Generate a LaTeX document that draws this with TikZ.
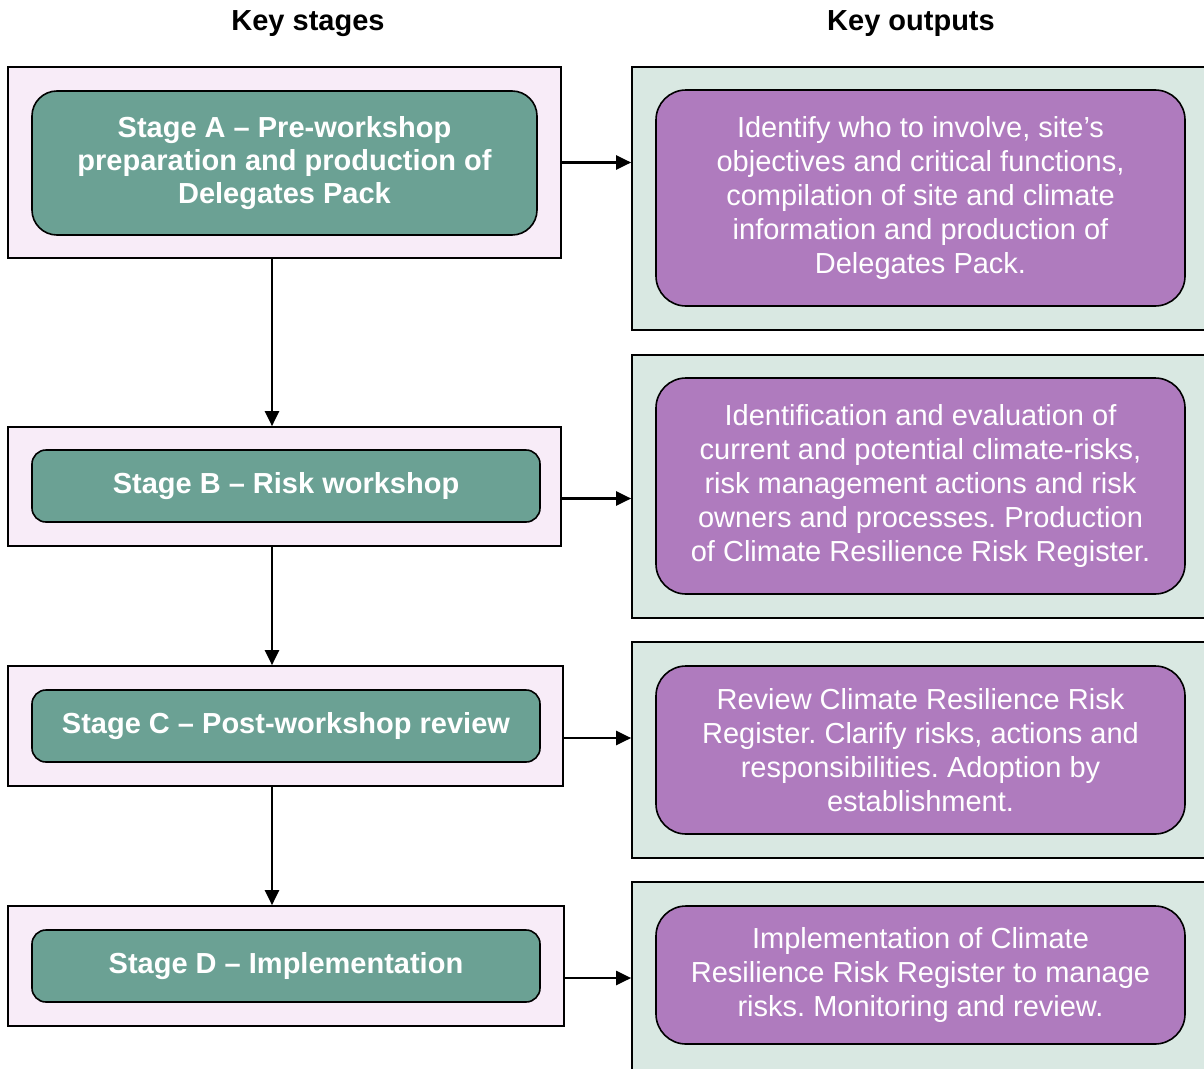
\documentclass[tikz,border=0pt]{standalone}
\usepackage{fontspec}
\setmainfont{Liberation Sans}
\usetikzlibrary{arrows.meta,calc}

\definecolor{stagepink}{HTML}{F8ECF8}
\definecolor{stagegreen}{HTML}{6BA194}
\definecolor{outgreen}{HTML}{D9E8E2}
\definecolor{outpurple}{HTML}{AF7BBE}

\tikzset{
  frame/.style={draw=black, line width=1.7pt, inner sep=0pt},
  stageframe/.style={frame, fill=stagepink},
  outframe/.style={frame, fill=outgreen},
  stagebox/.style={draw=black, fill=stagegreen, line width=1.6pt, inner sep=0pt,
    text=white, align=center, font=\bfseries\fontsize{29}{33}\selectfont},
  outbox/.style={draw=black, fill=outpurple, line width=1.6pt, inner sep=0pt,
    rounded corners=30pt, text=white, align=center, font=\fontsize{29}{34}\selectfont},
  flow/.style={-{Triangle[length=15pt,width=14pt]}, line width=2.2pt},
  heading/.style={font=\bfseries\fontsize{29}{33}\selectfont}
}

\begin{document}
\frenchspacing
\begin{tikzpicture}[x=1pt, y=-1pt]
    \useasboundingbox (0,0) rectangle (1204,1068);
    \clip (0,0) rectangle (1204,1068);

    % Headings
    \node[heading] (hstages) at (308,24) {Key stages};
    \node[heading] (houtputs) at (911,24) {Key outputs};

    % Key stages: outer frames
    \node[stageframe, minimum width=553pt, minimum height=191pt] (frameA) at (284.5,162.5) {};
    \node[stageframe, minimum width=553pt, minimum height=119pt] (frameB) at (284.5,486.5) {};
    \node[stageframe, minimum width=555pt, minimum height=120pt] (frameC) at (285.5,726) {};
    \node[stageframe, minimum width=556pt, minimum height=120pt] (frameD) at (286,966) {};

    % Key stages: green boxes
    \node[stagebox, rounded corners=25pt, minimum width=505pt, minimum height=144pt] (stageA) at (284.5,163)
        {Stage A -- Pre-workshop\\preparation and production of\\Delegates Pack};
    \node[stagebox, rounded corners=14pt, minimum width=508pt, minimum height=72pt] (stageB) at (286,486)
        {Stage B -- Risk workshop};
    \node[stagebox, rounded corners=14pt, minimum width=508pt, minimum height=72pt] (stageC) at (286,726)
        {Stage C -- Post-workshop review};
    \node[stagebox, rounded corners=14pt, minimum width=508pt, minimum height=72pt] (stageD) at (286,966)
        {Stage D -- Implementation};

    % Key outputs: outer frames (run off the right edge)
    \node[outframe, minimum width=598pt, minimum height=263pt] (outA) at (931,198.5) {};
    \node[outframe, minimum width=598pt, minimum height=263pt] (outB) at (931,486.5) {};
    \node[outframe, minimum width=598pt, minimum height=216pt] (outC) at (931,750) {};
    \node[outframe, minimum width=598pt, minimum height=218pt] (outD) at (931,991) {};

    % Key outputs: purple boxes
    \node[outbox, minimum width=529pt, minimum height=216pt] (textA) at (920.5,198)
        {Identify who to involve, site’s\\objectives and critical functions,\\compilation of site and climate\\information and production of\\Delegates Pack.};
    \node[outbox, minimum width=529pt, minimum height=216pt] (textB) at (920.5,486)
        {Identification and evaluation of\\current and potential climate-risks,\\risk management actions and risk\\owners and processes. Production\\of Climate Resilience Risk Register.};
    \node[outbox, minimum width=529pt, minimum height=168pt] (textC) at (920.5,750)
        {Review Climate Resilience Risk\\Register. Clarify risks, actions and\\responsibilities. Adoption by\\establishment.};
    \node[outbox, minimum width=529pt, minimum height=138pt] (textD) at (920.5,975)
        {Implementation of Climate\\Resilience Risk Register to manage\\risks. Monitoring and review.};

    % Stage to output arrows
    \draw[flow] (frameA.east) -- (frameA.east -| outA.west);
    \draw[flow] ($(frameB.east)+(0,12)$) -- ($(frameB.east -| outB.west)+(0,12)$);
    \draw[flow] ($(frameC.east)+(0,12)$) -- ($(frameC.east -| outC.west)+(0,12)$);
    \draw[flow] ($(frameD.east)+(0,12)$) -- ($(frameD.east -| outD.west)+(0,12)$);

    % Stage to stage arrows
    \coordinate (spine) at (272,0);
    \draw[flow] (frameA.south -| spine) -- (frameB.north -| spine);
    \draw[flow] (frameB.south -| spine) -- (frameC.north -| spine);
    \draw[flow] (frameC.south -| spine) -- (frameD.north -| spine);
\end{tikzpicture}
\end{document}
